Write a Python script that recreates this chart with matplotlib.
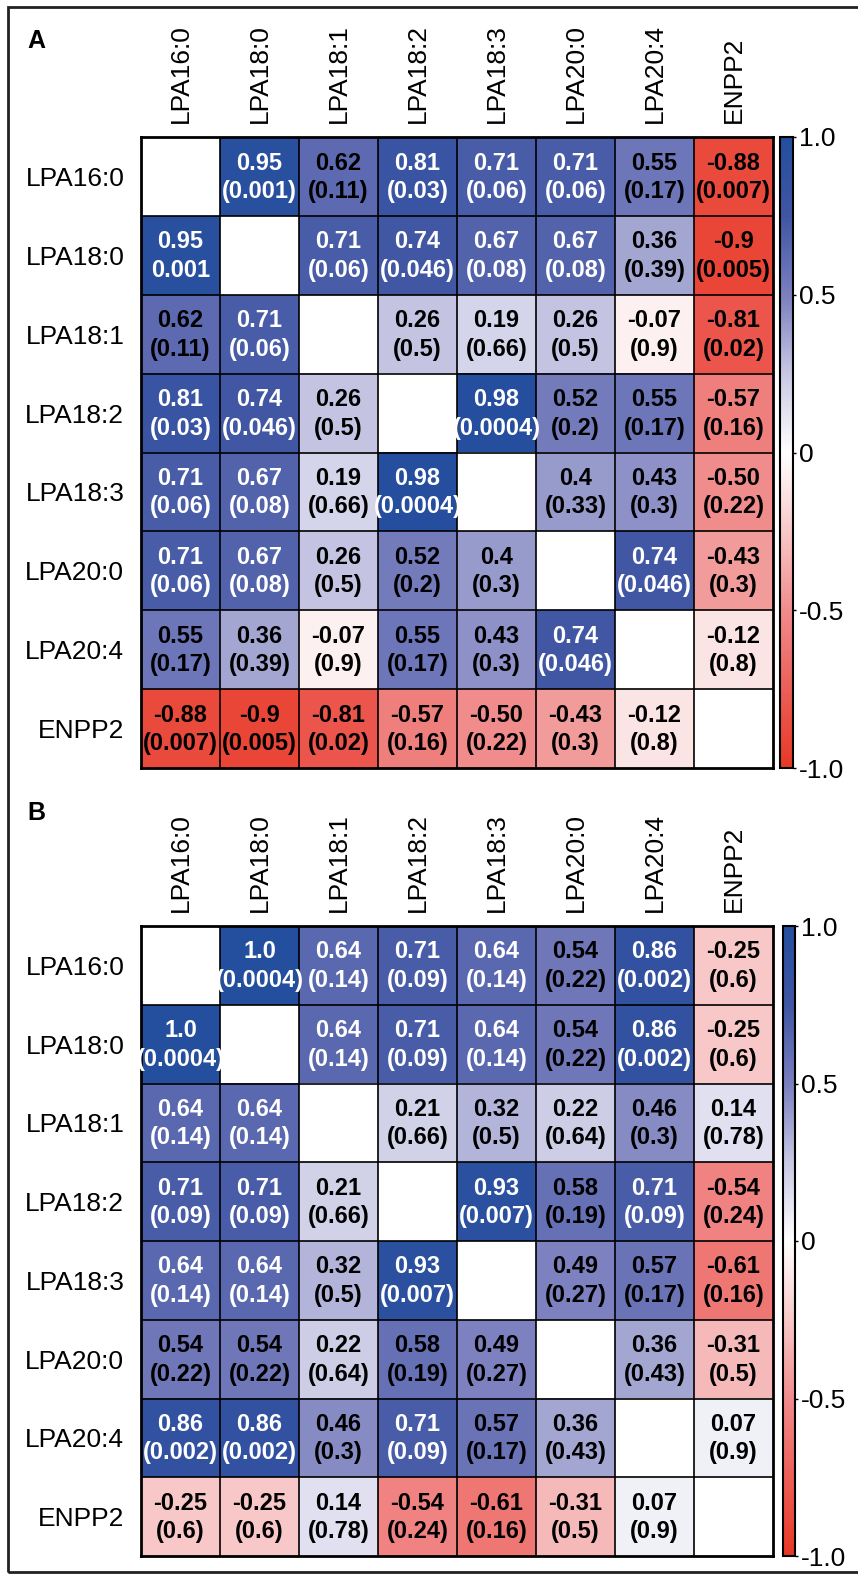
import numpy as np
import matplotlib.pyplot as plt
from matplotlib.colors import LinearSegmentedColormap
from matplotlib.patches import Rectangle

plt.rcParams['font.family'] = ['Liberation Sans', 'DejaVu Sans']

labels = ["LPA16:0", "LPA18:0", "LPA18:1", "LPA18:2", "LPA18:3", "LPA20:0", "LPA20:4", "ENPP2"]

# panel A: correlation coefficients, p values, text colour (W=white, K=black)
r_a = [
    ["", "0.95", "0.62", "0.81", "0.71", "0.71", "0.55", "-0.88"],
    ["0.95", "", "0.71", "0.74", "0.67", "0.67", "0.36", "-0.9"],
    ["0.62", "0.71", "", "0.26", "0.19", "0.26", "-0.07", "-0.81"],
    ["0.81", "0.74", "0.26", "", "0.98", "0.52", "0.55", "-0.57"],
    ["0.71", "0.67", "0.19", "0.98", "", "0.4", "0.43", "-0.50"],
    ["0.71", "0.67", "0.26", "0.52", "0.4", "", "0.74", "-0.43"],
    ["0.55", "0.36", "-0.07", "0.55", "0.43", "0.74", "", "-0.12"],
    ["-0.88", "-0.9", "-0.81", "-0.57", "-0.50", "-0.43", "-0.12", ""],
]
p_a = [
    ["", "(0.001)", "(0.11)", "(0.03)", "(0.06)", "(0.06)", "(0.17)", "(0.007)"],
    ["0.001", "", "(0.06)", "(0.046)", "(0.08)", "(0.08)", "(0.39)", "(0.005)"],
    ["(0.11)", "(0.06)", "", "(0.5)", "(0.66)", "(0.5)", "(0.9)", "(0.02)"],
    ["(0.03)", "(0.046)", "(0.5)", "", "(0.0004)", "(0.2)", "(0.17)", "(0.16)"],
    ["(0.06)", "(0.08)", "(0.66)", "(0.0004)", "", "(0.33)", "(0.3)", "(0.22)"],
    ["(0.06)", "(0.08)", "(0.5)", "(0.2)", "(0.3)", "", "(0.046)", "(0.3)"],
    ["(0.17)", "(0.39)", "(0.9)", "(0.17)", "(0.3)", "(0.046)", "", "(0.8)"],
    ["(0.007)", "(0.005)", "(0.02)", "(0.16)", "(0.22)", "(0.3)", "(0.8)", ""],
]
tc_a = ["-WKWWWKK", "W-WWWWKK", "KW-KKKKK", "WWK-WKKK",
        "WWKW-KKK", "WWKKK-WK", "KKKKKW-K", "KKKKKKK-"]

# panel B
r_b = [
    ["", "1.0", "0.64", "0.71", "0.64", "0.54", "0.86", "-0.25"],
    ["1.0", "", "0.64", "0.71", "0.64", "0.54", "0.86", "-0.25"],
    ["0.64", "0.64", "", "0.21", "0.32", "0.22", "0.46", "0.14"],
    ["0.71", "0.71", "0.21", "", "0.93", "0.58", "0.71", "-0.54"],
    ["0.64", "0.64", "0.32", "0.93", "", "0.49", "0.57", "-0.61"],
    ["0.54", "0.54", "0.22", "0.58", "0.49", "", "0.36", "-0.31"],
    ["0.86", "0.86", "0.46", "0.71", "0.57", "0.36", "", "0.07"],
    ["-0.25", "-0.25", "0.14", "-0.54", "-0.61", "-0.31", "0.07", ""],
]
p_b = [
    ["", "(0.0004)", "(0.14)", "(0.09)", "(0.14)", "(0.22)", "(0.002)", "(0.6)"],
    ["(0.0004)", "", "(0.14)", "(0.09)", "(0.14)", "(0.22)", "(0.002)", "(0.6)"],
    ["(0.14)", "(0.14)", "", "(0.66)", "(0.5)", "(0.64)", "(0.3)", "(0.78)"],
    ["(0.09)", "(0.09)", "(0.66)", "", "(0.007)", "(0.19)", "(0.09)", "(0.24)"],
    ["(0.14)", "(0.14)", "(0.5)", "(0.007)", "", "(0.27)", "(0.17)", "(0.16)"],
    ["(0.22)", "(0.22)", "(0.64)", "(0.19)", "(0.27)", "", "(0.43)", "(0.5)"],
    ["(0.002)", "(0.002)", "(0.3)", "(0.09)", "(0.17)", "(0.43)", "", "(0.9)"],
    ["(0.6)", "(0.6)", "(0.78)", "(0.24)", "(0.16)", "(0.5)", "(0.9)", ""],
]
tc_b = ["-WWWWKWK", "W-WWWKWK", "WW-KKKKK", "WWK-WKWK",
        "WWKW-KKK", "KKKKK-KK", "WWKWKK-K", "KKKKKKK-"]

cbar_ticks = [-1.0, -0.5, 0, 0.5, 1.0]
cbar_ticklabels = ["-1.0", "-0.5", "0", "0.5", "1.0"]

nodes = [
    (0.0, (232, 56, 36)),
    (0.125, (236, 95, 88)),
    (0.25, (241, 140, 140)),
    (0.375, (248, 200, 200)),
    (0.5, (255, 255, 255)),
    (0.625, (200, 200, 228)),
    (0.75, (122, 127, 190)),
    (0.875, (64, 86, 164)),
    (1.0, (36, 78, 158)),
]
cmap = LinearSegmentedColormap.from_list(
    "rwb", [(p, tuple(c / 255 for c in rgb)) for p, rgb in nodes])
cmap.set_bad("white")

W, H = 858, 1575
fig = plt.figure(figsize=(W / 100, H / 100), dpi=100)


def fx(px):
    return px / W


def fy(px):
    return 1 - px / H


def panel(r, p, tc, top, bottom, cb_left, cb_w, letter, letter_y):
    vals = np.array([[float(s) if s else np.nan for s in row] for row in r])
    ax = fig.add_axes([fx(141), fy(bottom), fx(773) - fx(141), (bottom - top) / H])
    im = ax.imshow(np.ma.masked_invalid(vals), cmap=cmap, vmin=-1, vmax=1,
                   aspect="auto", interpolation="nearest")
    n = len(labels)
    for k in range(1, n):
        ax.axhline(k - 0.5, color="black", lw=1.2)
        ax.axvline(k - 0.5, color="black", lw=1.2)
    for i in range(n):
        for j in range(n):
            if not r[i][j]:
                continue
            col = "white" if tc[i][j] == "W" else "black"
            ax.text(j, i - 0.17, r[i][j], ha="center", va="center",
                    fontsize=17, fontweight="bold", color=col)
            ax.text(j, i + 0.19, p[i][j], ha="center", va="center",
                    fontsize=17, fontweight="bold", color=col)
    ax.set_xticks(range(n))
    ax.set_xticklabels(labels, rotation=90, fontsize=19)
    ax.set_yticks(range(n))
    ax.set_yticklabels(labels, fontsize=19)
    ax.xaxis.tick_top()
    ax.tick_params(length=0, pad=10)
    ax.tick_params(axis="y", pad=12)
    for s in ax.spines.values():
        s.set_linewidth(2)

    cax = fig.add_axes([fx(cb_left), fy(bottom), cb_w / W, (bottom - top) / H])
    cb = fig.colorbar(im, cax=cax, ticks=cbar_ticks)
    cb.set_ticklabels(cbar_ticklabels)
    cb.ax.tick_params(labelsize=19, length=2, width=1, pad=2)
    cb.outline.set_linewidth(1.5)

    fig.text(fx(27), fy(letter_y), letter, fontsize=18, fontweight="bold",
             ha="left", va="baseline")


panel(r_a, p_a, tc_a, 137, 768, 780, 13, "A", 48)
panel(r_b, p_b, tc_b, 926, 1556, 783, 12, "B", 820)

fig.add_artist(Rectangle((fx(8), fy(1572)), 1.0, fy(7) - fy(1572),
                         transform=fig.transFigure, fill=False, lw=2, ec="#222222"))

fig.savefig("out.png", dpi=100)
